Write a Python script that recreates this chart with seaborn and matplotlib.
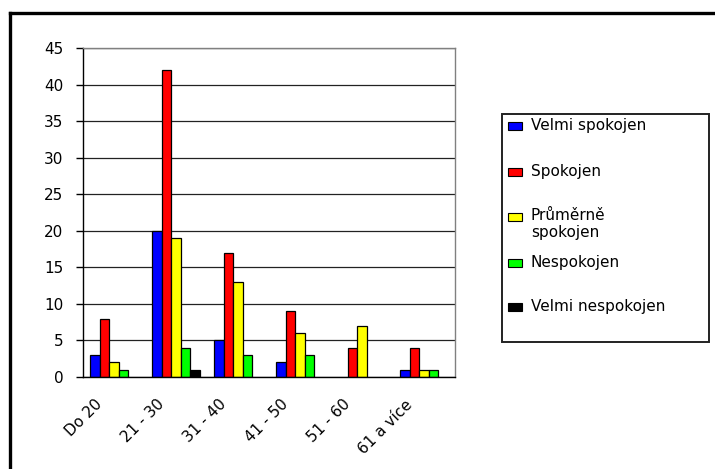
import pandas as pd
import matplotlib.pyplot as plt
import matplotlib.transforms as mtransforms
import seaborn as sns
from matplotlib.patches import Rectangle
from matplotlib.lines import Line2D

# data
categories = ["Do 20", "21 - 30", "31 - 40", "41 - 50", "51 - 60", "61 a více"]
series = ["Velmi spokojen", "Spokojen", "Průměrně spokojen", "Nespokojen", "Velmi nespokojen"]
legend_labels = ["Velmi spokojen", "Spokojen", "Průměrně\nspokojen", "Nespokojen", "Velmi nespokojen"]
velmi_spokojen = [3, 20, 5, 2, 0, 1]
spokojen = [8, 42, 17, 9, 4, 4]
prumerne = [2, 19, 13, 6, 7, 1]
nespokojen = [1, 4, 3, 3, 0, 1]
velmi_nespokojen = [0, 1, 0, 0, 0, 0]
colors = ["#0000FF", "#FF0000", "#FFFF00", "#00FF00", "#000000"]
yticks = list(range(0, 50, 5))

values = [velmi_spokojen, spokojen, prumerne, nespokojen, velmi_nespokojen]
rows = []
for s, vals in zip(series, values):
    for c, v in zip(categories, vals):
        rows.append({"kategorie": c, "serie": s, "pocet": v})
df = pd.DataFrame(rows)

sns.set_style("white")
plt.rcParams["font.family"] = ["DejaVu Sans"]
plt.rcParams["text.color"] = "black"
plt.rcParams["xtick.color"] = "black"
plt.rcParams["ytick.color"] = "black"

W, H = 715, 469
fig = plt.figure(figsize=(W / 100, H / 100), dpi=100)
ax = fig.add_axes([83 / W, 1 - 377 / H, 372 / W, 329 / H])

sns.barplot(data=df, x="kategorie", y="pocet", hue="serie", order=categories,
            hue_order=series, palette=colors, width=0.77, gap=0,
            edgecolor="black", linewidth=0.9, saturation=1, legend=False, ax=ax)

# Excel does not draw zero bars
for p in ax.patches:
    if p.get_height() == 0:
        p.set_visible(False)

ax.set_ylim(0, 45)
ax.set_xlim(-0.5, len(categories) - 0.5)
ax.set_yticks(yticks)
ax.set_yticklabels([str(t) for t in yticks], fontsize=11)
ax.yaxis.grid(True, color="#222222", linewidth=0.9)
ax.set_axisbelow(True)
ax.set_xlabel("")
ax.set_ylabel("")

# category labels at centres, tick marks at boundaries
ax.set_xticks(range(len(categories)))
ax.set_xticklabels(categories, fontsize=11, rotation=45, ha="right",
                   va="center", rotation_mode="anchor")
ax.tick_params(axis="x", which="major", length=0, pad=0)
shift = mtransforms.ScaledTranslation(-0.14, -0.25, fig.dpi_scale_trans)
for lbl in ax.get_xticklabels():
    lbl.set_transform(lbl.get_transform() + shift)
ax.set_xticks([i - 0.5 for i in range(len(categories) + 1)], minor=True)
ax.tick_params(axis="x", which="minor", length=4.5, width=1, color="black", direction="out")
ax.tick_params(axis="y", length=5, width=1, color="black", direction="out", left=True, pad=9)

for side in ["left", "bottom"]:
    ax.spines[side].set_color("black")
    ax.spines[side].set_linewidth(1)
for side in ["top", "right"]:
    ax.spines[side].set_visible(True)
    ax.spines[side].set_color("#808080")
    ax.spines[side].set_linewidth(1)

# legend, laid out the Excel way (marker on the first line of each label)
legend_rows_px = [126, 172, 217, 263, 307]
for lab, col, y in zip(legend_labels, colors, legend_rows_px):
    fig.patches.append(Rectangle((508 / W, 1 - (y + 4) / H), 14 / W, 8 / H,
                                 transform=fig.transFigure, facecolor=col,
                                 edgecolor="black", linewidth=0.8))
    fig.text(531 / W, 1 - (y - 8.5) / H, lab, fontsize=11, va="top",
             ha="left", linespacing=1.15)
fig.patches.append(Rectangle((502 / W, 1 - 342 / H), 207 / W, 228 / H,
                             transform=fig.transFigure, fill=False,
                             edgecolor="#222222", linewidth=1.4))

# outer chart border (only top and left edges fall inside the picture)
fig.lines.append(Line2D([10 / W, 10 / W], [0, 1 - 13.5 / H], transform=fig.transFigure,
                        color="black", linewidth=2.4, solid_capstyle="projecting"))
fig.lines.append(Line2D([10 / W, 1], [1 - 13.5 / H, 1 - 13.5 / H], transform=fig.transFigure,
                        color="black", linewidth=2.4, solid_capstyle="projecting"))

plt.savefig("out.png", dpi=100)
